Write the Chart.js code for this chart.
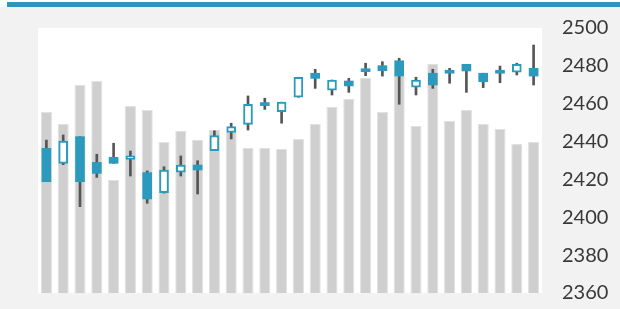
<!DOCTYPE html>
<html>
<head>
<meta charset="utf-8">
<script src="https://cdn.jsdelivr.net/npm/chart.js@4.4.1/dist/chart.umd.min.js"></script>
<style>
  html, body { margin: 0; padding: 0; background: #ffffff; }
  #wrap { width: 620px; height: 309px; }
</style>
</head>
<body>
<div id="wrap"><canvas id="candleChart" width="620" height="309"></canvas></div>
<script>
// sesiones (sin etiquetas visibles en el eje x)
const days = ['1', '2', '3', '4', '5', '6', '7', '8', '9', '10',
  '11', '12', '13', '14', '15', '16', '17', '18', '19', '20',
  '21', '22', '23', '24', '25', '26', '27', '28', '29', '30'];

// precios
const opens = [2436.4, 2428.5, 2442.6, 2429.0, 2431.7, 2430.6, 2423.6, 2413.0, 2423.8, 2427.6,
  2435.2, 2444.9, 2449.1, 2459.5, 2455.8, 2463.4, 2476.1, 2467.2, 2472.0, 2478.3,
  2480.1, 2482.7, 2468.7, 2476.1, 2477.4, 2480.8, 2476.1, 2477.4, 2476.6, 2478.7];
const closes = [2418.8, 2440.3, 2418.8, 2423.2, 2428.5, 2432.5, 2409.7, 2425.0, 2427.6, 2425.0,
  2443.1, 2447.9, 2459.7, 2459.0, 2460.8, 2474.0, 2473.4, 2472.5, 2469.4, 2476.9,
  2477.4, 2474.6, 2472.5, 2469.9, 2476.1, 2477.3, 2471.6, 2476.1, 2480.8, 2474.6];
const highs = [2440.8, 2443.5, 2442.6, 2433.3, 2439.1, 2435.0, 2424.5, 2426.7, 2432.4, 2429.9,
  2445.7, 2449.7, 2464.1, 2462.9, 2460.8, 2474.0, 2478.2, 2472.5, 2473.4, 2481.4,
  2482.2, 2484.0, 2474.0, 2478.2, 2478.7, 2480.8, 2476.1, 2479.9, 2481.4, 2491.0];
const lows = [2418.8, 2427.8, 2405.6, 2421.1, 2428.5, 2421.8, 2407.4, 2412.8, 2421.8, 2412.3,
  2435.2, 2441.4, 2446.1, 2457.0, 2449.7, 2463.4, 2468.1, 2464.6, 2466.0, 2474.8,
  2474.6, 2459.7, 2464.6, 2468.1, 2470.8, 2466.0, 2468.5, 2471.1, 2475.2, 2469.9];

// volumen (eje oculto)
const volumes = [181, 169, 208, 212, 113, 187, 183, 151, 162, 153,
  163, 161, 145, 145, 144, 154, 169, 186, 194, 215,
  181, 217, 167, 229, 172, 183, 169, 164, 149, 151];

const priceTicks = [2360, 2380, 2400, 2420, 2440, 2460, 2480, 2500];

const TEAL = '#2b9abc';

// cuerpos y mechas como barras flotantes
const bodies = opens.map((o, i) => [o, closes[i]]);
const wicks = lows.map((l, i) => [l, highs[i]]);
const bodyFill = opens.map((o, i) => (closes[i] < o ? TEAL : '#ffffff'));
const bodyBorder = opens.map((o, i) => (closes[i] < o ? 0 : 2));

// fondo gris, franja azul y area blanca
const backdrop = {
  id: 'backdrop',
  beforeDraw(chart) {
    const { ctx, chartArea } = chart;
    ctx.save();
    ctx.fillStyle = '#ffffff';
    ctx.fillRect(0, 0, chart.width, chart.height);
    ctx.fillStyle = '#f2f2f2';
    ctx.fillRect(0, 7, chart.width, chart.height - 7);
    ctx.fillStyle = '#2e96bd';
    ctx.fillRect(7, 2, chart.width - 7, 5);
    ctx.fillStyle = '#ffffff';
    ctx.fillRect(chartArea.left, chartArea.top,
      chartArea.right - chartArea.left, chartArea.bottom - chartArea.top);
    ctx.restore();
  },
};

const ctx = document.getElementById('candleChart').getContext('2d');

new Chart(ctx, {
  type: 'bar',
  data: {
    labels: days,
    datasets: [
      {
        label: 'Volumen',
        data: volumes,
        yAxisID: 'yv',
        backgroundColor: '#d0cfd0',
        borderColor: '#e2e1e2',
        borderWidth: 1,
        barPercentage: 0.66,
        categoryPercentage: 1,
        grouped: false,
        order: 3,
      },
      {
        label: 'Mecha',
        data: wicks,
        yAxisID: 'y',
        backgroundColor: '#555555',
        barThickness: 2,
        grouped: false,
        order: 2,
      },
      {
        label: 'Cuerpo',
        data: bodies,
        yAxisID: 'y',
        backgroundColor: bodyFill,
        borderColor: TEAL,
        borderWidth: bodyBorder,
        borderSkipped: false,
        barThickness: 9,
        minBarLength: 3,
        grouped: false,
        order: 1,
      },
    ],
  },
  options: {
    responsive: false,
    animation: false,
    layout: {
      padding: { left: 38, top: 28, right: 0, bottom: 16 },
    },
    plugins: {
      legend: { display: false },
      tooltip: { enabled: false },
    },
    scales: {
      x: {
        display: false,
        offset: true,
      },
      y: {
        position: 'right',
        min: priceTicks[0],
        max: priceTicks[priceTicks.length - 1],
        afterBuildTicks: (scale) => {
          scale.ticks = priceTicks.map((v) => ({ value: v }));
        },
        afterFit: (scale) => {
          scale.width = 78;
          scale.paddingTop = 0;
          scale.paddingBottom = 0;
        },
        grid: { display: false, drawTicks: false },
        border: { display: false },
        ticks: {
          padding: 20,
          color: '#383838',
          font: { family: 'Lato', size: 20 },
          callback: (value) => String(value),
        },
      },
      yv: {
        display: false,
        min: 0,
        max: 265,
      },
    },
  },
  plugins: [backdrop],
});
</script>
</body>
</html>
